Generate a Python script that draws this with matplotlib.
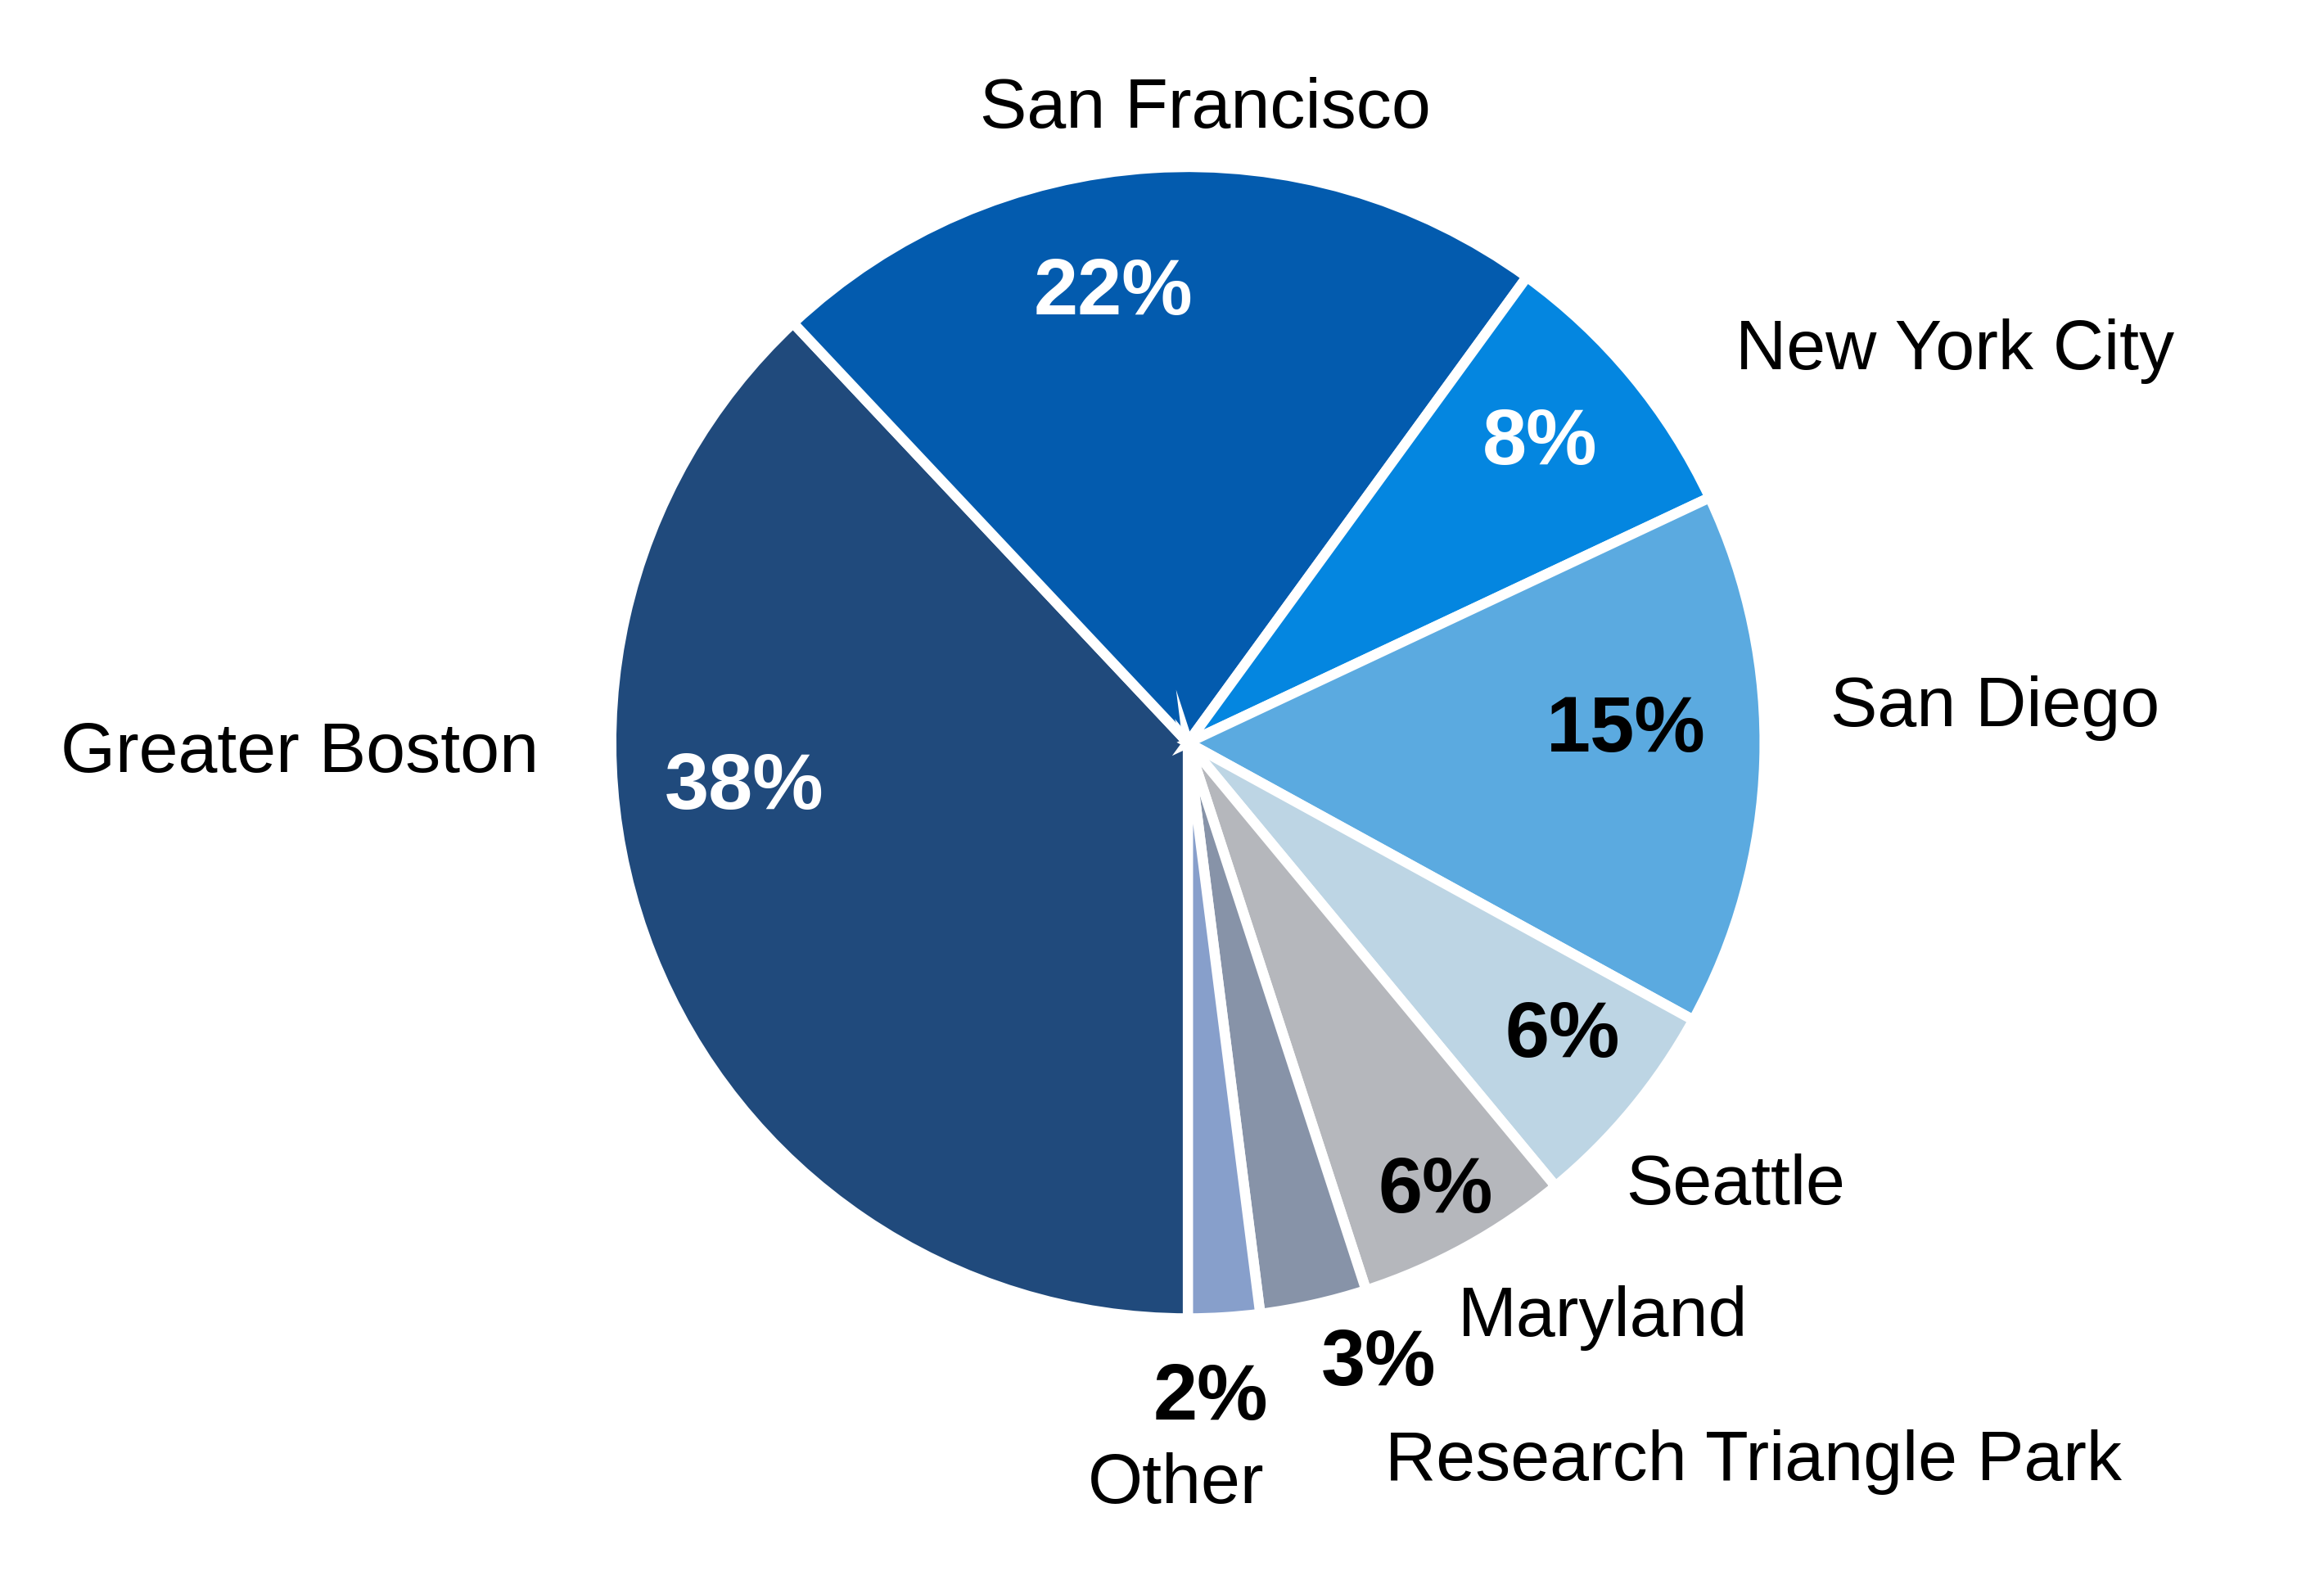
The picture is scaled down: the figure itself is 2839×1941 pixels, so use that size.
import matplotlib
matplotlib.use("Agg")
import matplotlib.pyplot as plt

labels = ["Greater Boston", "San Francisco", "New York City", "San Diego",
          "Seattle", "Maryland", "Research Triangle Park", "Other"]
values = [38, 22, 8, 15, 6, 6, 3, 2]
colors = ["#204A7C", "#035BAE", "#0486E0", "#5BAAE0",
          "#BDD5E4", "#B5B7BC", "#8793A8", "#879FCB"]
pct_colors = ["white", "white", "white", "black", "black", "black", "black", "black"]
name_pos = [(-1.54, -0.02), (0.03, 1.10), (1.33, 0.68), (1.40, 0.06),
            (0.95, -0.77), (0.72, -1.00), (0.98, -1.25), (-0.02, -1.29)]
pct_pos = [(-0.77, -0.08), (-0.13, 0.78), (0.61, 0.52), (0.76, 0.02),
           (0.65, -0.51), (0.43, -0.78), (0.33, -1.08), (0.04, -1.14)]

plt.rcParams['font.family'] = ['Liberation Sans', 'DejaVu Sans']
fig = plt.figure(figsize=(28.39, 19.41), dpi=100)
ax = fig.add_axes([0, 0, 1, 1])
ax.pie(values, colors=colors, startangle=-90, counterclock=False, radius=1,
       wedgeprops=dict(edgecolor="white", linewidth=9))
ax.set_aspect("auto")
ax.set_xlim(-2.06, 1.97)
ax.set_ylim(-1.47, 1.29)
ax.axis("off")
for lab, (x, y) in zip(labels, name_pos):
    ax.text(x, y, lab, ha="center", va="center", fontsize=62, color="black")
for v, c, (x, y) in zip(values, pct_colors, pct_pos):
    ax.text(x, y, f"{v}%", ha="center", va="center", fontsize=70,
            fontweight="bold", color=c)
fig.savefig("out.png", dpi=100)
